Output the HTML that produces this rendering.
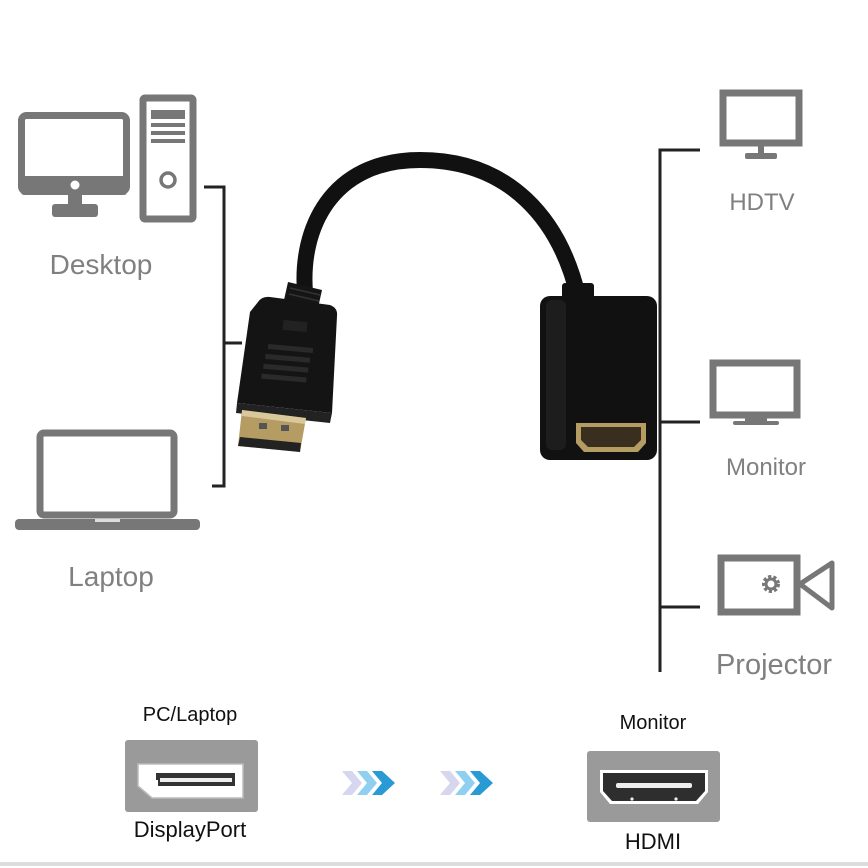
<!DOCTYPE html>
<html><head><meta charset="utf-8"><style>
html,body{margin:0;padding:0;background:#fff;}
svg{display:block;}
text{font-family:"Liberation Sans",Arial,sans-serif;}
</style></head><body>
<svg width="868" height="868" viewBox="0 0 868 868" xmlns="http://www.w3.org/2000/svg">
<rect width="868" height="868" fill="#fff"/>
<g fill="none" stroke="#777" stroke-width="7">
<rect x="21.5" y="115.5" width="105" height="76" rx="5"/>
<rect x="143" y="98" width="50" height="121" rx="2"/>
<rect x="723" y="93" width="76" height="50"/>
<rect x="713" y="363" width="84" height="52"/>
<rect x="40" y="433" width="134" height="82" rx="4"/>
<rect x="721" y="558" width="76" height="54"/>
</g>
<rect x="21" y="176" width="106" height="19" rx="3" fill="#777"/>
<circle cx="75" cy="185" r="4.5" fill="#fff"/>
<rect x="68" y="193" width="14" height="14" fill="#777"/>
<rect x="52" y="204" width="46" height="13" rx="3" fill="#777"/>
<g fill="#777"><rect x="151" y="110" width="34" height="9"/><rect x="151" y="123" width="34" height="4"/><rect x="151" y="131" width="34" height="4"/><rect x="151" y="139" width="34" height="4"/></g>
<circle cx="168" cy="180" r="7" fill="none" stroke="#777" stroke-width="3.5"/>
<text x="101" y="274" font-size="28" fill="#808080" text-anchor="middle">Desktop</text>
<rect x="15" y="519" width="185" height="11" rx="4" fill="#777"/>
<rect x="95" y="519" width="25" height="3" fill="#ddd"/>
<text x="111" y="586" font-size="28" fill="#808080" text-anchor="middle">Laptop</text>
<g stroke="#222" stroke-width="3" fill="none">
<path d="M204 187 H224 V486 H212"/>
<path d="M224 343 H242"/>
<path d="M700 150 H660 V672"/>
<path d="M660 422 H700"/>
<path d="M660 607 H700"/>
</g>
<rect x="758" y="143" width="6" height="12" fill="#777"/>
<rect x="745" y="153" width="32" height="6" rx="2" fill="#777"/>
<text x="762" y="210" font-size="24" fill="#808080" text-anchor="middle">HDTV</text>
<rect x="745" y="414" width="22" height="8" fill="#777"/>
<rect x="733" y="421" width="46" height="4" rx="2" fill="#777"/>
<text x="766" y="475" font-size="24" fill="#808080" text-anchor="middle">Monitor</text>
<path d="M800 584 L832 563 V608 Z" fill="none" stroke="#777" stroke-width="5" stroke-linejoin="round"/>
<circle cx="771" cy="584" r="7" fill="none" stroke="#777" stroke-width="4" stroke-dasharray="3 2"/>
<circle cx="771" cy="584" r="5" fill="none" stroke="#777" stroke-width="3"/>
<text x="774" y="674" font-size="29" fill="#808080" text-anchor="middle">Projector</text>
<path d="M305 292 C 300 230, 330 160, 420 160 C 510 160, 560 220, 578 296" fill="none" stroke="#111" stroke-width="16" stroke-linecap="round"/>
<path d="M288 282 L322 290 L318 308 L284 300 Z" fill="#151515"/>
<g stroke="#333" stroke-width="1.5"><path d="M290 288 L320 295"/><path d="M289 294 L319 301"/></g>
<rect x="562" y="283" width="32" height="18" rx="3" fill="#111"/>
<path d="M258 302 Q262 296 270 297 L330 305 Q338 308 337 316 L332 413 L237 403 L250 312 Z" fill="#141414"/>
<path d="M237 403 L332 413 L330 423 L236 413 Z" fill="#222"/>
<rect x="283" y="321" width="24" height="10" fill="#222" transform="rotate(5 295 326)"/>
<g fill="#2a2a2a" transform="rotate(5 290 360)"><rect x="267" y="346" width="45" height="5"/><rect x="265" y="356" width="45" height="5"/><rect x="264" y="366" width="45" height="5"/><rect x="263" y="376" width="45" height="5"/></g>
<path d="M242 410 L306 418 L300 452 L238 446 Z" fill="#b59c63"/>
<path d="M242 410 L306 418 L305 424 L242 416 Z" fill="#d8c89a"/>
<rect x="259" y="423" width="8" height="6" fill="#555"/>
<rect x="281" y="425" width="8" height="6" fill="#555"/>
<path d="M240 437 L301 443 L300 452 L238 446 Z" fill="#222"/>
<rect x="540" y="296" width="117" height="164" rx="10" fill="#111"/>
<rect x="546" y="300" width="20" height="150" rx="6" fill="#1d1d1d"/>
<path d="M576 423 H646 V443 L638 452 H584 L576 443 Z" fill="#b59c63"/>
<path d="M581 427 H641 V440 L634 447 H588 L581 440 Z" fill="#3a2f1e"/>
<text x="190" y="721" font-size="20" fill="#111" text-anchor="middle">PC/Laptop</text>
<rect x="125" y="740" width="133" height="72" rx="3" fill="#9a9a9a"/>
<path d="M138 764 H243 V798 H152 L138 786 Z" fill="#fff" stroke="#bbb" stroke-width="1.5"/>
<path d="M156 773 H235 V786 H158 V780 H156 Z" fill="#333"/>
<rect x="160" y="778" width="72" height="4" fill="#eee"/>
<text x="190" y="837" font-size="22" fill="#111" text-anchor="middle">DisplayPort</text>
<g>
<path d="M342 771 H352 L362 783 L352 795 H342 L352 783 Z" fill="#d6d6ee"/>
<path d="M357 771 H367 L377 783 L367 795 H357 L367 783 Z" fill="#8fd0f0"/>
<path d="M372 771 H382 L395 783 L382 795 H372 L382 783 Z" fill="#2a9ad4"/>
<path d="M440 771 H450 L460 783 L450 795 H440 L450 783 Z" fill="#d6d6ee"/>
<path d="M455 771 H465 L475 783 L465 795 H455 L465 783 Z" fill="#8fd0f0"/>
<path d="M470 771 H480 L493 783 L480 795 H470 L480 783 Z" fill="#2a9ad4"/>
</g>
<text x="653" y="729" font-size="20" fill="#111" text-anchor="middle">Monitor</text>
<rect x="587" y="751" width="133" height="71" rx="3" fill="#9a9a9a"/>
<path d="M600 770 H708 V792 L698 804 H610 L600 792 Z" fill="#fff"/>
<path d="M603 773 H705 V791 L696 801 H612 L603 791 Z" fill="#2e2e2e"/>
<rect x="616" y="783" width="76" height="5" rx="2" fill="#eee"/>
<circle cx="632" cy="799" r="1.6" fill="#eee"/><circle cx="676" cy="799" r="1.6" fill="#eee"/>
<text x="653" y="849" font-size="22" fill="#111" text-anchor="middle">HDMI</text>
<rect x="0" y="862" width="868" height="4" fill="#ddd"/>
</svg>
</body></html>
